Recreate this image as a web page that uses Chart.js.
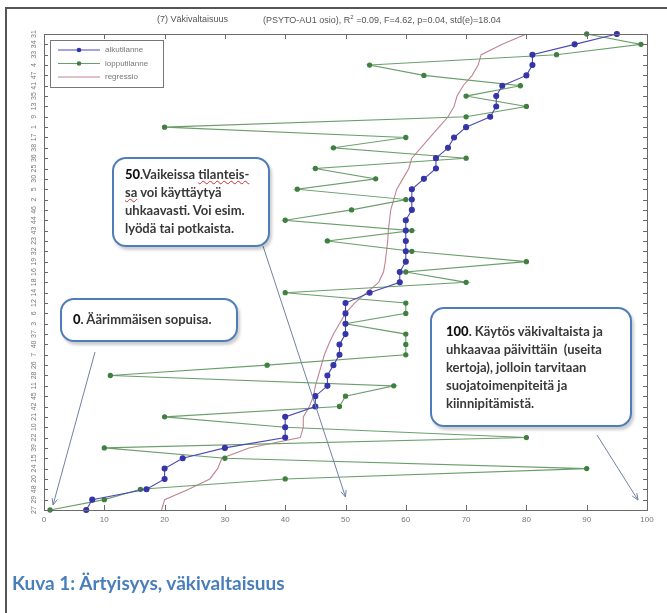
<!DOCTYPE html>
<html>
<head>
<meta charset="utf-8">
<script src="https://cdn.jsdelivr.net/npm/chart.js@4.4.1/dist/chart.umd.min.js"></script>
<style>
  body { margin: 0; background: #fff; width: 667px; height: 613px; overflow: hidden; position: relative; }
  #frame { position: absolute; left: 5px; top: 7px; width: 700px; height: 700px; border-left: 2px solid #555; border-top: 2px solid #555; }
  #mycanvas { position: absolute; left: 0; top: 0; }
  .ttl { position: absolute; top: 14px; font: 9px 'Liberation Sans', Arial, sans-serif; color: #555; white-space: pre; }
  .note { position: absolute; background: #fff; border: 2.5px solid #4f7dbb; border-radius: 14px; box-shadow: 2px 3px 3px rgba(0,0,0,0.2); font: bold 13px/18px Lato, 'Open Sans', sans-serif; color: #383838; box-sizing: border-box; white-space: nowrap; }
  .note b { color: #111; font-weight: 900; }
  .sp { text-decoration: underline wavy #d03030; text-decoration-thickness: 1px; }
  .caption { position: absolute; left: 12px; top: 571px; font: bold 19px Lato, 'Open Sans', sans-serif; color: #4a7ebb; }
</style>
</head>
<body>
<div id="frame"></div>
<canvas id="mycanvas" width="667" height="613"></canvas>
<div class="ttl" style="left:157px">(7) Väkivaltaisuus</div>
<div class="ttl" style="left:263px">(PSYTO-AU1 osio), R<sup style="font-size:6px">2</sup> =0.09, F=4.62, p=0.04, std(e)=18.04</div>

<div class="note" style="left:112px; top:157px; width:158px; height:90px; padding:6px 0 0 11px;"><b>50</b>.Vaikeissa <span class="sp">tilanteis-</span><br><span class="sp">sa</span> voi käyttäytyä<br>uhkaavasti. Voi esim.<br>lyödä tai potkaista.</div>
<div class="note" style="left:60px; top:298px; width:178px; height:44px; padding:10px 0 0 11px;"><b>0</b>. Äärimmäisen sopuisa.</div>
<div class="note" style="left:430px; top:307px; width:202px; height:120px; padding:13px 0 0 14px;"><b>100</b>. Käytös väkivaltaista ja<br>uhkaavaa päivittäin&nbsp; (useita<br>kertoja), jolloin tarvitaan<br>suojatoimenpiteitä ja<br>kiinnipitämistä.</div>

<div class="caption">Kuva 1: Ärtyisyys, väkivaltaisuus</div>

<script>
// potilaat ylhäältä alas
const rowLabels = ['31','34','33','4','47','41','35','13','9','1','17','38','36','25','30','5','2','46','44','43',
  '23','32','19','16','18','14','12','6','3','37','40','7','26','28','11','45','42','21','10','22',
  '39','15','24','20','48','29','27'];

const alkutilanne = [95, 88, 81, 81, 80, 76, 75, 75, 74, 70, 68, 67, 65, 65, 63, 61, 61, 61, 60, 60,
  60, 60, 60, 59, 59, 54, 50, 50, 50, 50, 49, 49, 48, 47, 47, 45, 45, 40, 40, 40,
  30, 23, 20, 20, 17, 8, 7];

const lopputilanne = [90, 99, 85, 54, 63, 79, 70, 80, 70, 20, 60, 48, 70, 45, 55, 42, 60, 51, 40, 61,
  47, 61, 80, 60, 70, 40, 60, 60, 50, 60, 60, 60, 37, 11, 58, 50, 49, 20, 40, 80,
  10, 30, 90, 40, 16, 10, 1];

const regressio = [80, 76, 72.5, 72, 71, 69.5, 68.5, 68, 67, 65.5, 64, 62.5, 61, 60.5, 59.5, 58.5, 58, 57.5, 57.3, 57.1,
  57, 56.8, 56.6, 56.3, 55.5, 53.5, 51.5, 50, 49, 48, 47.2, 46.5, 46, 45.5, 45, 44.7, 44, 43, 43, 42.5,
  34, 29.5, 28.8, 27.5, 24, 20, 19.5];

const seriesNames = ['alkutilanne', 'lopputilanne', 'regressio'];
const lineColors = ['#4a4ab4', '#6c9e6c', '#c08492'];
const markerColors = ['#3535a8', '#3f7f3f', null];

// nuolet laatikoista: alku pikseleinä, kärki x-arvona
const callouts = [
  { from: [263, 246], toValue: 50, dy: 13 },
  { from: [95, 352], toValue: 1.5, dy: 5 },
  { from: [597, 435], toValue: 98.5, dy: 10 },
];

const matlabAxes = {
  id: 'matlabAxes',
  afterDatasetsDraw(chart) {
    const { ctx, chartArea: a, scales: { x, y } } = chart;
    ctx.save();
    ctx.strokeStyle = '#6a6a6a';
    ctx.lineWidth = 1;
    ctx.strokeRect(a.left + 0.5, a.top + 0.5, a.right - a.left, a.bottom - a.top);
    ctx.beginPath();
    x.ticks.forEach(t => {
      const px = Math.round(x.getPixelForValue(t.value)) + 0.5;
      ctx.moveTo(px, a.bottom); ctx.lineTo(px, a.bottom - 5);
      ctx.moveTo(px, a.top); ctx.lineTo(px, a.top + 5);
    });
    y.ticks.forEach((t, i) => {
      const py = Math.round(y.getPixelForTick(i)) + 0.5;
      ctx.moveTo(a.left, py); ctx.lineTo(a.left + 4, py);
      ctx.moveTo(a.right, py); ctx.lineTo(a.right - 4, py);
    });
    ctx.stroke();

    // legenda
    const lx = a.left + 6, ly = a.top + 6;
    ctx.fillStyle = '#fff';
    ctx.fillRect(lx, ly, 113, 47);
    ctx.strokeStyle = '#777';
    ctx.strokeRect(lx + 0.5, ly + 0.5, 113, 47);
    ctx.font = '8px "Liberation Sans", Arial, sans-serif';
    ctx.textBaseline = 'middle';
    seriesNames.forEach((name, i) => {
      const yy = ly + 10 + i * 13.5;
      ctx.strokeStyle = lineColors[i];
      ctx.lineWidth = 1.1;
      ctx.beginPath(); ctx.moveTo(lx + 8, yy); ctx.lineTo(lx + 50, yy); ctx.stroke();
      if (markerColors[i]) {
        ctx.fillStyle = markerColors[i];
        ctx.beginPath(); ctx.arc(lx + 29, yy, 2.3, 0, Math.PI * 2); ctx.fill();
      }
      ctx.fillStyle = '#777';
      ctx.fillText(name, lx + 55, yy);
    });

    // nuolet
    ctx.strokeStyle = '#6f82a6';
    ctx.lineWidth = 1;
    callouts.forEach(c => {
      const tx = x.getPixelForValue(c.toValue), ty = a.bottom - c.dy;
      const [fx, fy] = c.from;
      const ang = Math.atan2(ty - fy, tx - fx);
      ctx.beginPath();
      ctx.moveTo(fx, fy); ctx.lineTo(tx, ty);
      ctx.moveTo(tx - 7 * Math.cos(ang - 0.4), ty - 7 * Math.sin(ang - 0.4));
      ctx.lineTo(tx, ty);
      ctx.lineTo(tx - 7 * Math.cos(ang + 0.4), ty - 7 * Math.sin(ang + 0.4));
      ctx.stroke();
    });
    ctx.restore();
  }
};

const mycanvas = document.getElementById('mycanvas').getContext('2d');
const chart = new Chart(mycanvas, {
  type: 'line',
  data: {
    labels: rowLabels,
    datasets: [
      {
        label: seriesNames[0],
        data: alkutilanne,
        borderColor: lineColors[0],
        backgroundColor: markerColors[0],
        pointBorderColor: markerColors[0],
        borderWidth: 1.1,
        pointRadius: 2.5,
      },
      {
        label: seriesNames[1],
        data: lopputilanne,
        borderColor: lineColors[1],
        backgroundColor: markerColors[1],
        pointBorderColor: markerColors[1],
        borderWidth: 1.1,
        pointRadius: 2.1,
      },
      {
        label: seriesNames[2],
        data: regressio,
        borderColor: lineColors[2],
        borderWidth: 1.1,
        pointRadius: 0,
      }
    ]
  },
  options: {
    responsive: false,
    animation: false,
    indexAxis: 'y',
    layout: { padding: { left: 24, right: 20, top: 34, bottom: 83 } },
    plugins: {
      legend: { display: false },
      tooltip: { enabled: false },
    },
    scales: {
      x: {
        type: 'linear',
        min: 0,
        max: 100,
        ticks: { stepSize: 10, color: '#777', font: { size: 8, family: 'Liberation Sans' }, padding: 5 },
        grid: { display: false, drawTicks: false },
        border: { display: false },
        afterFit(s) { s.height = 20; }
      },
      y: {
        type: 'category',
        offset: false,
        ticks: { autoSkip: false, minRotation: 90, maxRotation: 90, crossAlign: 'center', color: '#777', font: { size: 7, family: 'Liberation Sans' }, padding: 6 },
        grid: { display: false, drawTicks: false },
        border: { display: false },
        afterFit(s) { s.width = 20; }
      }
    }
  },
  plugins: [matlabAxes]
});
</script>
</body>
</html>
